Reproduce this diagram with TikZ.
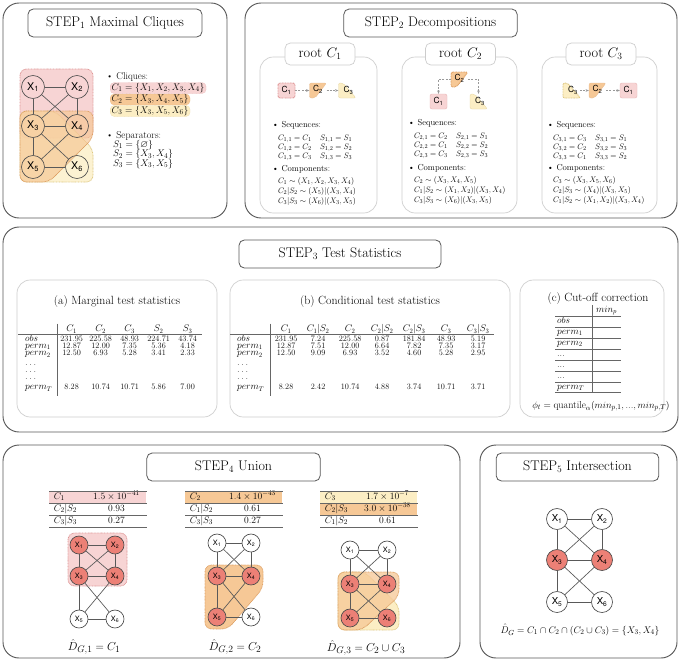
\documentclass[tikz,border=0pt]{standalone}
\usepackage{amsmath,amssymb}
\usepackage{fontspec}
\newfontfamily\nodefont{TeX Gyre Heros}
\usetikzlibrary{arrows.meta,matrix}

\definecolor{cliqA}{RGB}{247,212,212}
\definecolor{cliqAd}{RGB}{222,150,150}
\definecolor{cliqB}{RGB}{246,200,150}
\definecolor{cliqBd}{RGB}{222,160,100}
\definecolor{cliqC}{RGB}{252,238,196}
\definecolor{cliqCd}{RGB}{222,200,130}
\definecolor{hitred}{RGB}{236,128,118}

% edges of the undirected graph
\def\gedges{1/2,1/3,1/4,2/3,2/4,3/4,3/5,3/6,4/5,5/6}

\tikzset{
    iconone/.pic={\path[fill=cliqA, rounded corners=3pt, pic actions] (-8.5,-7.5) rectangle (8.5,7.5);},
    icontwo/.pic={\path[fill=cliqB, rounded corners=3pt, pic actions] (-8.5,-7.5) -- (8.5,-7.5) -- (-3,7.5) -- (-8.5,7.5) -- cycle;},
    iconthree/.pic={\path[fill=cliqC, rounded corners=3pt, pic actions] (-8.5,-7.5) -- (-4,-7.5) -- (9,7.5) -- (-8.5,7.5) -- cycle;}
}

\begin{document}
\begin{tikzpicture}[x=1.5pt, y=-1.5pt,
        panel/.style={draw=black!65, line width=1.4pt, rounded corners=24pt},
        subpanel/.style={draw=black!20, line width=1pt, rounded corners=20pt},
        stepbox/.style={draw=black!65, fill=white, line width=1.2pt, rounded corners=8pt, minimum height=42pt, inner sep=0pt, font=\fontsize{21}{24}\selectfont},
        rootbox/.style={draw=black!20, fill=white, line width=1pt, rounded corners=8pt, minimum width=105pt, minimum height=33pt, inner sep=0pt, font=\fontsize{21.5}{24}\selectfont},
        gedge/.style={draw=black!65, line width=1pt},
        vbig/.style={circle, draw=black!70, line width=1pt, minimum size=34.5pt, inner sep=0pt, font=\nodefont\fontsize{16}{16}\selectfont},
        vsmall/.style={circle, draw=black!70, line width=1pt, minimum size=27pt, inner sep=0pt, font=\nodefont\fontsize{11}{11}\selectfont},
        vmid/.style={circle, draw=black!70, line width=1pt, minimum size=31.5pt, inner sep=0pt, font=\nodefont\fontsize{14.4}{14.4}\selectfont},
        region/.style={densely dotted, line width=1.2pt, rounded corners=10pt},
        icon/.style={minimum width=25.5pt, minimum height=22.5pt, inner sep=0pt, font=\nodefont\fontsize{12.6}{12.6}\selectfont},
        flow/.style={draw=black!40, densely dashed, line width=0.8pt, -{Stealth[length=5pt,width=4pt]}},
        small/.style={font={\fontsize{13}{13.2}\selectfont\lineskiplimit=-10pt}, align=left, inner sep=0pt},
        list/.style={font=\fontsize{15}{16}\selectfont, inner sep=0pt},
        hl/.style={list, inner xsep=2.4pt, inner ysep=1pt, text height=10.5pt, text depth=4pt, rounded corners=6pt, densely dotted},
        subtitle/.style={font=\fontsize{17.8}{20}\selectfont},
        rule/.style={draw=black!60, line width=0.8pt},
        stat/.style={matrix of nodes, nodes in empty cells, inner sep=0pt, row sep=0pt, column sep=0pt,
            nodes={inner sep=0pt, minimum width=43.5pt, text height=8pt, text depth=2.8pt, font=\fontsize{12.4}{13}\selectfont},
            row 1/.style={nodes={font=\fontsize{14.4}{15}\selectfont}},
            column 1/.style={nodes={text width=48pt, align=left, font=\fontsize{14.4}{15}\selectfont}}},
        cut/.style={matrix of nodes, nodes in empty cells, inner sep=0pt, row sep=0pt, column sep=0pt,
            nodes={inner sep=0pt, minimum width=42pt, text height=11pt, text depth=5.4pt, font=\fontsize{14.4}{16}\selectfont},
            column 1/.style={nodes={text width=50pt, align=left, inner xsep=3pt}}},
        uni/.style={matrix of nodes, nodes in empty cells, inner sep=0pt, row sep=0pt, column sep=0pt,
            nodes={inner sep=0pt, minimum height=18pt, text height=10pt, text depth=4pt, font=\fontsize{15}{16}\selectfont},
            column 1/.style={nodes={text width=42pt, align=left, inner xsep=7pt}},
            column 2/.style={nodes={minimum width=90pt}}}
    ]
    \fill[white] (0,0) rectangle (681,662);

    %% STEP 1
    \draw[panel] (3,3) rectangle (227,218);
    \node[stepbox, minimum width=261pt] (t1) at (115,23) {STEP$_1$ Maximal Cliques};
    \filldraw[region, fill=cliqA, draw=cliqAd] (20,69) rectangle (93,138);
    \filldraw[region, fill=cliqC, draw=cliqCd, fill opacity=0.75] (20,111) -- (55,111) -- (93,149) -- (93,182) -- (20,182) -- cycle;
    \filldraw[region, fill=cliqB, draw=cliqBd, fill opacity=0.7] (20,111) -- (93,111) -- (93,138) -- (49,182) -- (20,182) -- cycle;
    \foreach \n/\xx/\yy in {1/33/87, 2/77/87, 3/33/126, 4/77/126, 5/33/167, 6/77/167}
        \node[vbig] (a\n) at (\xx,\yy) {X\textsubscript{\n}};
    \foreach \u/\v in \gedges
        \draw[gedge] (a\u) -- (a\v);
    \node[list, anchor=west] (cl) at (106,77) {\textbullet\ Cliques:};
    \node[hl, anchor=west, fill=cliqA, draw=cliqAd] (c1) at (110,88) {$C_1 = \{X_1, X_2, X_3, X_4\}$};
    \node[hl, anchor=west, fill=cliqB, draw=cliqBd] (c2) at (110,99.5) {$C_2 = \{X_3, X_4, X_5\}$};
    \node[hl, anchor=west, fill=cliqC, draw=cliqCd] (c3) at (110,111) {$C_3 = \{X_3, X_5, X_6\}$};
    \node[list, anchor=west] (sp) at (106,136) {\textbullet\ Separators:};
    \node[list, anchor=west] (s1) at (113,145) {$S_1 = \{\varnothing\}$};
    \node[list, anchor=west] (s2) at (113,154.5) {$S_2 = \{X_3, X_4\}$};
    \node[list, anchor=west] (s3) at (113,164) {$S_3 = \{X_3, X_5\}$};

    %% STEP 2
    \draw[panel] (245,3) rectangle (677,218);
    \node[stepbox, minimum width=260pt] (t2) at (430.5,23) {STEP$_2$ Decompositions};
    \draw[subpanel] (260,57) rectangle (377,213);
    \draw[subpanel] (402,57) rectangle (517,213);
    \draw[subpanel] (542,57) rectangle (657,213);
    \node[rootbox] (h1) at (320,54) {root $C_1$};
    \node[rootbox] (h2) at (460.5,54) {root $C_2$};
    \node[rootbox] (h3) at (601,54) {root $C_3$};
    % root C1
    \pic[draw=cliqAd, densely dotted, line width=1.4pt] at (286.5,90.5) {iconone};
    \pic[draw=cliqBd!70, line width=0.6pt] at (318,90.5) {icontwo};
    \pic[draw=cliqCd!70, line width=0.6pt] at (347,90.5) {iconthree};
    \node[icon] (r1a) at (286.5,90.5) {C\textsubscript{1}};
    \node[icon] (r1b) at (318,90.5) {\raisebox{5pt}{C\textsubscript{2}}};
    \node[icon] (r1c) at (347,90.5) {\hspace{4pt}\raisebox{-3pt}{C\textsubscript{3}}};
    \draw[flow] (r1a) -- (r1b);
    \draw[flow] (r1b) -- (r1c);
    % root C2
    \pic[draw=cliqBd, densely dotted, line width=1.4pt] at (459.5,79.5) {icontwo};
    \pic[draw=cliqAd!70, line width=0.6pt] at (438.5,101.5) {iconone};
    \pic[draw=cliqCd!70, line width=0.6pt] at (478.5,101.5) {iconthree};
    \node[icon] (r2b) at (459.5,79.5) {\raisebox{5pt}{C\textsubscript{2}}};
    \node[icon] (r2a) at (438.5,101.5) {C\textsubscript{1}};
    \node[icon] (r2c) at (478.5,101.5) {\hspace{4pt}\raisebox{-3pt}{C\textsubscript{3}}};
    \draw[flow] (r2b.west) -| (r2a.north);
    \draw[flow] (r2b.east) -| (r2c.north);
    % root C3
    \pic[draw=cliqCd, densely dotted, line width=1.4pt] at (571.5,90.5) {iconthree};
    \pic[draw=cliqBd!70, line width=0.6pt] at (597.5,90.5) {icontwo};
    \pic[draw=cliqAd!70, line width=0.6pt] at (628.5,90.5) {iconone};
    \node[icon] (r3c) at (571.5,90.5) {\hspace{4pt}\raisebox{-3pt}{C\textsubscript{3}}};
    \node[icon] (r3b) at (597.5,90.5) {\raisebox{5pt}{C\textsubscript{2}}};
    \node[icon] (r3a) at (628.5,90.5) {C\textsubscript{1}};
    \draw[flow] (r3c) -- (r3b);
    \draw[flow] (r3b) -- (r3a);
    % sequences and components
    \node[small, anchor=north west] (q1) at (272,121.5) {\textbullet\ Sequences:\\[6pt]
        \hspace*{9pt}$C_{1,1} = C_1 \quad S_{1,1} = S_1$\\
        \hspace*{9pt}$C_{1,2} = C_2 \quad S_{1,2} = S_2$\\
        \hspace*{9pt}$C_{1,3} = C_3 \quad S_{1,3} = S_3$};
    \node[small, anchor=north west] (k1) at (272,165.5) {\textbullet\ Components:\\[4pt]
        \hspace*{9pt}$C_1 \sim (X_1, X_2, X_3, X_4)$\\[2pt]
        \hspace*{9pt}$C_2|S_2 \sim (X_5)|(X_3, X_4)$\\[2pt]
        \hspace*{9pt}$C_3|S_3 \sim (X_6)|(X_3, X_5)$};
    \node[small, anchor=north west] (q2) at (408,119.5) {\textbullet\ Sequences:\\[6pt]
        \hspace*{9pt}$C_{2,1} = C_2 \quad S_{2,1} = S_1$\\
        \hspace*{9pt}$C_{2,2} = C_1 \quad S_{2,2} = S_2$\\
        \hspace*{9pt}$C_{2,3} = C_3 \quad S_{2,3} = S_3$};
    \node[small, anchor=north west] (k2) at (408,164.5) {\textbullet\ Components:\\[4pt]
        \hspace*{9pt}$C_2 \sim (X_3, X_4, X_5)$\\[2pt]
        \hspace*{9pt}$C_1|S_2 \sim (X_1, X_2)|(X_3, X_4)$\\[2pt]
        \hspace*{9pt}$C_3|S_3 \sim (X_6)|(X_3, X_5)$};
    \node[small, anchor=north west] (q3) at (547,121.5) {\textbullet\ Sequences:\\[6pt]
        \hspace*{9pt}$C_{3,1} = C_3 \quad S_{3,1} = S_1$\\
        \hspace*{9pt}$C_{3,2} = C_2 \quad S_{3,2} = S_3$\\
        \hspace*{9pt}$C_{3,3} = C_1 \quad S_{3,3} = S_2$};
    \node[small, anchor=north west] (k3) at (547,164.5) {\textbullet\ Components:\\[4pt]
        \hspace*{9pt}$C_3 \sim (X_3, X_5, X_6)$\\[2pt]
        \hspace*{9pt}$C_2|S_3 \sim (X_4)|(X_3, X_5)$\\[2pt]
        \hspace*{9pt}$C_1|S_2 \sim (X_1, X_2)|(X_3, X_4)$};

    %% STEP 3
    \draw[panel] (3,227) rectangle (678,432);
    \node[stepbox, minimum width=303pt] (t3) at (340,254) {STEP$_3$ Test Statistics};
    \draw[subpanel] (17,280) rectangle (217,417);
    \draw[subpanel] (230,280) rectangle (510,417);
    \draw[subpanel] (520,280) rectangle (664,417);
    \node[subtitle] (ta) at (117,302) {(a) Marginal test statistics};
    \node[subtitle] (tb) at (370,302) {(b) Conditional test statistics};
    \node[subtitle] (tc) at (598,299) {(c) Cut-off correction};
    \matrix (ma) [stat, anchor=north west] at (25,326.4) {
        & $C_1$ & $C_2$ & $C_3$ & $S_2$ & $S_3$ \\[3.4pt]
        $obs$ & 231.95 & 225.58 & 48.93 & 224.71 & 43.74 \\
        $perm_1$ & 12.87 & 12.00 & 7.35 & 5.36 & 4.18 \\
        $perm_2$ & 12.50 & 6.93 & 5.28 & 3.41 & 2.33 \\[3.4pt]
        $\dots$ & & & & & \\
        $\dots$ & & & & & \\
        $\dots$ & & & & & \\[4.2pt]
        $perm_T$ & 8.28 & 10.74 & 10.71 & 5.86 & 7.00 \\
    };
    \draw[rule] ([xshift=-10pt]ma-1-1.south west) -- (ma-1-6.south east);
    \draw[rule] ([yshift=4pt]ma-1-1.north east) -- ([yshift=-6pt]ma-8-1.south east);
    \matrix (mb) [stat, nodes={minimum width=48pt}, column 1/.style={nodes={text width=49.5pt, align=left, font=\fontsize{14.4}{15}\selectfont}}, anchor=north west] at (237,326.4) {
        & $C_1$ & $C_1|S_2$ & $C_2$ & $C_2|S_2$ & $C_2|S_3$ & $C_3$ & $C_3|S_3$ \\[3.4pt]
        $obs$ & 231.95 & 7.24 & 225.58 & 0.87 & 181.84 & 48.93 & 5.19 \\
        $perm_1$ & 12.87 & 7.51 & 12.00 & 6.64 & 7.82 & 7.35 & 3.17 \\
        $perm_2$ & 12.50 & 9.09 & 6.93 & 3.52 & 4.60 & 5.28 & 2.95 \\[3.4pt]
        $\dots$ & & & & & & & \\
        $\dots$ & & & & & & & \\
        $\dots$ & & & & & & & \\[4.2pt]
        $perm_T$ & 8.28 & 2.42 & 10.74 & 4.88 & 3.74 & 10.71 & 3.71 \\
    };
    \draw[rule] ([xshift=-10pt]mb-1-1.south west) -- (mb-1-8.south east);
    \draw[rule] ([yshift=4pt]mb-1-1.north east) -- ([yshift=-6pt]mb-8-1.south east);
    \matrix (mc) [cut, anchor=north west] at (555,305) {
        & $min_p$ \\
        $obs$ & \\
        $perm_1$ & \\
        $perm_2$ & \\
        $...$ & \\
        $...$ & \\
        $...$ & \\
        $perm_T$ & \\
    };
    \foreach \r in {1,...,8}
        \draw[rule] (mc-\r-1.south west) -- (mc-\r-2.south east);
    \draw[rule] (mc-1-1.north east) -- (mc-8-1.south east);
    \node[font=\fontsize{15.2}{17}\selectfont] (phi) at (601,406) {$\phi_t = \text{quantile}_\alpha(min_{p,1}, ..., min_{p,T})$};

    %% STEP 4
    \draw[panel] (3,445) rectangle (460,658);
    \node[stepbox, minimum width=260pt] (t4) at (233.5,467) {STEP$_4$ Union};
    \matrix (ua) [uni, row 1/.style={nodes={fill=cliqA}}, anchor=north west] at (49,491) {
        $C_1$ & $1.5 \times 10^{-41}$ \\
        $C_2|S_2$ & $0.93$ \\
        $C_3|S_3$ & $0.27$ \\
    };
    \matrix (ub) [uni, row 1/.style={nodes={fill=cliqB}}, anchor=north west] at (185,491) {
        $C_2$ & $1.4 \times 10^{-43}$ \\
        $C_1|S_2$ & $0.61$ \\
        $C_3|S_3$ & $0.27$ \\
    };
    \matrix (uc) [uni, row 1/.style={nodes={fill=cliqC}}, row 2/.style={nodes={fill=cliqB}}, anchor=north west] at (320,491) {
        $C_3$ & $1.7 \times 10^{-7}$ \\
        $C_2|S_3$ & $3.0 \times 10^{-38}$ \\
        $C_1|S_2$ & $0.61$ \\
    };
    \foreach \m in {ua,ub,uc} {
        \draw[rule] (\m-1-1.north west) -- (\m-1-2.north east);
        \foreach \r in {1,2,3}
            \draw[rule] (\m-\r-1.south west) -- (\m-\r-2.south east);
    }
    % union graph 1
    \filldraw[region, fill=cliqA, draw=cliqAd] (68,533) rectangle (127,586);
    \foreach \n/\xx/\yy/\f in {1/79/545/hitred, 2/115/545/hitred, 3/79/576/hitred, 4/115/576/hitred, 5/79/619/white, 6/115/619/white}
        \node[vsmall, fill=\f] (p\n) at (\xx,\yy) {X\textsubscript{\n}};
    \foreach \u/\v in \gedges
        \draw[gedge] (p\u) -- (p\v);
    % union graph 2
    \filldraw[region, fill=cliqB, draw=cliqBd] (205,565) -- (263,565) -- (263,588) -- (228,629) -- (205,629) -- cycle;
    \foreach \n/\xx/\yy/\f in {1/217/543/white, 2/251/543/white, 3/217/576/hitred, 4/251/576/hitred, 5/217/617/hitred, 6/251/617/white}
        \node[vsmall, fill=\f] (q\n) at (\xx,\yy) {X\textsubscript{\n}};
    \foreach \u/\v in \gedges
        \draw[gedge] (q\u) -- (q\v);
    % union graph 3
    \filldraw[region, fill=cliqC, draw=cliqCd] (338,572) -- (365,572) -- (399,606) -- (399,630) -- (338,630) -- cycle;
    \filldraw[region, fill=cliqB, draw=cliqBd, fill opacity=0.75] (338,572) -- (399,572) -- (399,596) -- (362,630) -- (338,630) -- cycle;
    \foreach \n/\xx/\yy/\f in {1/350/550/white, 2/387/550/white, 3/350/584/hitred, 4/387/584/hitred, 5/350/618/hitred, 6/387/618/hitred}
        \node[vsmall, fill=\f] (r\n) at (\xx,\yy) {X\textsubscript{\n}};
    \foreach \u/\v in \gedges
        \draw[gedge] (r\u) -- (r\v);
    \node[font=\fontsize{19}{21}\selectfont] (d1) at (94,647) {$\hat{D}_{G,1} = C_1$};
    \node[font=\fontsize{19}{21}\selectfont] (d2) at (235,647) {$\hat{D}_{G,2} = C_2$};
    \node[font=\fontsize{19}{21}\selectfont] (d3) at (366,648) {$\hat{D}_{G,3} = C_2 \cup C_3$};

    %% STEP 5
    \draw[panel] (480,445) rectangle (677,658);
    \node[stepbox, minimum width=244pt] (t5) at (577.5,467) {STEP$_5$ Intersection};
    \foreach \n/\xx/\yy/\f in {1/557/519/white, 2/602/519/white, 3/557/560/hitred, 4/602/560/hitred, 5/557/602/white, 6/602/602/white}
        \node[vmid, fill=\f] (s\n) at (\xx,\yy) {X\textsubscript{\n}};
    \foreach \u/\v in \gedges
        \draw[gedge] (s\u) -- (s\v);
    \node[font=\fontsize{15.4}{17}\selectfont] (dg) at (580,630) {$\hat{D}_G = C_1 \cap C_2 \cap (C_2 \cup C_3) = \{X_3, X_4\}$};
\end{tikzpicture}
\end{document}
